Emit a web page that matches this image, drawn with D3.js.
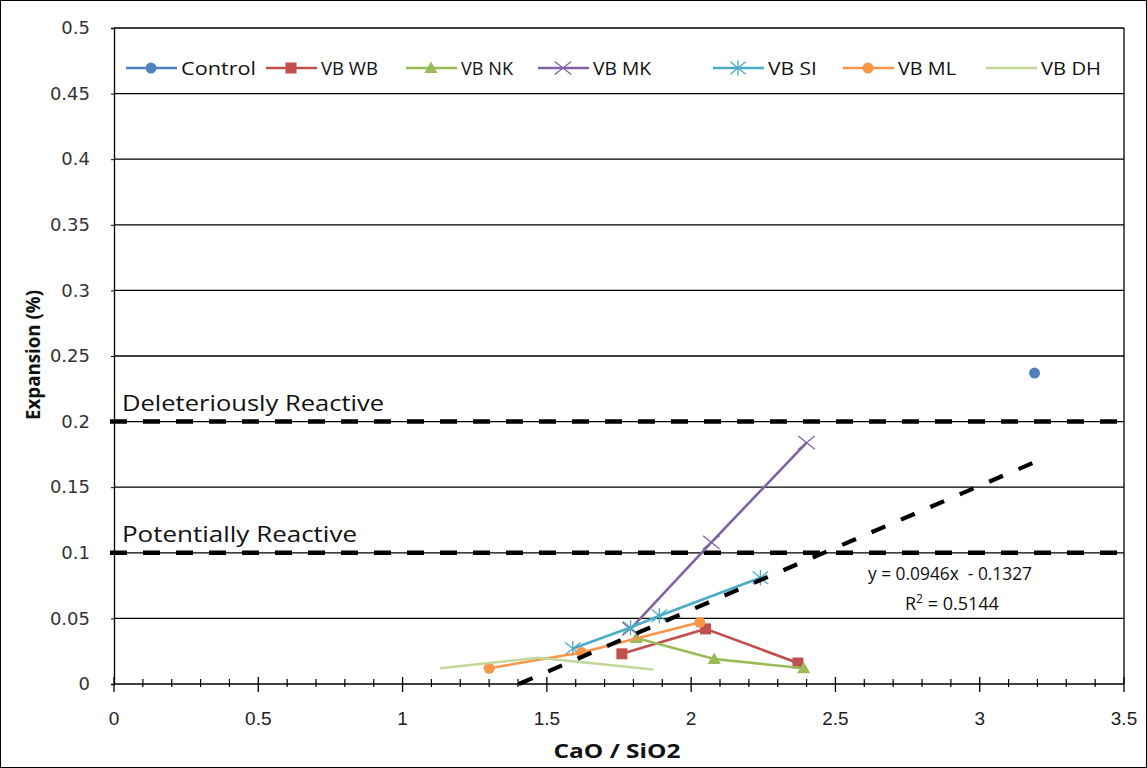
<!DOCTYPE html>
<html><head><meta charset="utf-8">
<script src="https://cdn.jsdelivr.net/npm/d3@7"></script>
<style>body{margin:0;background:#fff}svg{display:block}</style>
</head><body>
<svg id="c" width="1147" height="768"></svg>
<script>
// ---- data ----
const seriesNames = ["Control","VB WB","VB NK","VB MK","VB SI","VB ML","VB DH"];
const seriesColors = ["#4F81BD","#C0504D","#9BBB59","#8064A2","#4BACC6","#F79646","#C4D79B"];
const seriesMarkers = ["circle","square","triangle","x","asterisk","circle","none"];
const controlX = [3.19], controlY = [0.237];
const wbX = [1.76, 2.05, 2.37], wbY = [0.023, 0.042, 0.016];
const nkX = [1.81, 2.08, 2.39], nkY = [0.035, 0.019, 0.012];
const mkX = [1.79, 2.07, 2.40], mkY = [0.042, 0.108, 0.184];
const siX = [1.59, 1.79, 1.89, 2.24], siY = [0.027, 0.043, 0.052, 0.081];
const mlX = [1.30, 1.62, 2.03], mlY = [0.012, 0.024, 0.047];
const dhX = [1.13, 1.47, 1.87], dhY = [0.012, 0.020, 0.011];
const trendSlope = 0.0946, trendIntercept = -0.1327;
const trendXEnd = 3.19;
const limitValues = [0.2, 0.1];
const limitLabels = ["Deleteriously Reactive", "Potentially Reactive"];
const yTicks = [0,0.05,0.1,0.15,0.2,0.25,0.3,0.35,0.4,0.45,0.5];
const yTickLabels = ["0","0.05","0.1","0.15","0.2","0.25","0.3","0.35","0.4","0.45","0.5"];
const xTicks = [0,0.5,1,1.5,2,2.5,3,3.5];
const xTickLabels = ["0","0.5","1","1.5","2","2.5","3","3.5"];
const xTitle = "CaO / SiO2", yTitle = "Expansion (%)";
const eqText = "y = 0.0946x  - 0.1327";

const seriesX = [controlX, wbX, nkX, mkX, siX, mlX, dhX];
const seriesY = [controlY, wbY, nkY, mkY, siY, mlY, dhY];

// ---- layout ----
const svg = d3.select("#c");
const L = 114, R = 1124, T = 28, B = 684;
const x = d3.scaleLinear().domain([0,3.5]).range([L,R]);
const y = d3.scaleLinear().domain([0,0.5]).range([B,T]);
const FONT = "'Open Sans', 'Liberation Sans', sans-serif";

// outer border
svg.append("rect").attr("x",0.5).attr("y",0.5).attr("width",1146).attr("height",767)
  .attr("fill","#fff").attr("stroke","#000").attr("stroke-width",1);

// gridlines
svg.append("g").selectAll("line").data(yTicks.filter(d=>d>0)).join("line")
  .attr("x1",L).attr("x2",R).attr("y1",d=>y(d)).attr("y2",d=>y(d))
  .attr("stroke","#000").attr("stroke-width",1.3);
// right border
svg.append("line").attr("x1",R).attr("x2",R).attr("y1",T).attr("y2",B)
  .attr("stroke","#000").attr("stroke-width",1.3);

// y axis
const yAxis = svg.append("g").attr("transform",`translate(${L},0)`)
  .call(d3.axisLeft(y).tickValues(yTicks).tickFormat((d,i)=>yTickLabels[i]).tickSize(3).tickPadding(21));
yAxis.select(".domain").attr("stroke","#000").attr("stroke-width",1.3);
yAxis.selectAll("text").attr("font-family","'DejaVu Sans', Verdana, sans-serif").attr("font-size",18).attr("fill","#333");

// x axis
const xMinor = d3.range(0, 36).map(i=>i/10).filter(v => Math.abs(v*2 - Math.round(v*2)) > 1e-6);
const xg = svg.append("g");
xg.append("line").attr("x1",L).attr("x2",R).attr("y1",B).attr("y2",B).attr("stroke","#000").attr("stroke-width",1.5);
xg.selectAll("line.minor").data(xMinor).join("line").attr("class","minor")
  .attr("x1",d=>x(d)).attr("x2",d=>x(d)).attr("y1",B-5).attr("y2",B+3).attr("stroke","#000").attr("stroke-width",1.2);
xg.selectAll("line.major").data(xTicks).join("line").attr("class","major")
  .attr("x1",d=>x(d)).attr("x2",d=>x(d)).attr("y1",B-7).attr("y2",B+8).attr("stroke","#000").attr("stroke-width",1.3);
xg.selectAll("text").data(xTicks).join("text")
  .attr("x",d=>x(d)).attr("y",725).attr("text-anchor","middle")
  .attr("font-family","'Liberation Sans Narrow', 'Liberation Sans', sans-serif").attr("font-size",19).attr("fill","#222")
  .text((d,i)=>xTickLabels[i]);

// limit lines
limitValues.forEach((v,i)=>{
  svg.append("line").attr("x1",L-4).attr("x2",R).attr("y1",y(v)).attr("y2",y(v))
    .attr("stroke","#000").attr("stroke-width",4.5).attr("stroke-dasharray","17,16");
  svg.append("text").attr("x",122).attr("y",y(v)-11).attr("font-family",FONT).attr("font-size",21)
    .attr("fill","#111").attr("textLength", i===0?262:235).attr("lengthAdjust","spacingAndGlyphs")
    .text(limitLabels[i]);
});

// axis titles
svg.append("text").attr("x",617).attr("y",758).attr("text-anchor","middle").attr("font-family",FONT)
  .attr("font-weight","bold").attr("font-size",19).attr("textLength",127).attr("lengthAdjust","spacingAndGlyphs")
  .attr("fill","#111").text(xTitle);
svg.append("text").attr("transform","translate(40,355) rotate(-90)").attr("text-anchor","middle")
  .attr("font-family",FONT).attr("font-weight","bold").attr("font-size",19).attr("textLength",130)
  .attr("lengthAdjust","spacingAndGlyphs").attr("fill","#111").text(yTitle);

// marker drawer
function marker(g, type, cx, cy, color, s){
  if(type==="circle") g.append("circle").attr("cx",cx).attr("cy",cy).attr("r",s*0.5).attr("fill",color);
  else if(type==="square") g.append("rect").attr("x",cx-s/2).attr("y",cy-s/2).attr("width",s).attr("height",s).attr("fill",color);
  else if(type==="triangle") g.append("path").attr("d",`M${cx},${cy-s*0.6}L${cx+s*0.6},${cy+s*0.45}L${cx-s*0.6},${cy+s*0.45}Z`).attr("fill",color);
  else if(type==="x"){ const h=s*0.75;
    g.append("path").attr("d",`M${cx-h},${cy-h*0.8}L${cx+h},${cy+h*0.8}M${cx-h},${cy+h*0.8}L${cx+h},${cy-h*0.8}`).attr("stroke",color).attr("stroke-width",1.3).attr("fill","none");}
  else if(type==="asterisk"){ const h=s*0.7;
    g.append("path").attr("d",`M${cx-h},${cy-h*0.8}L${cx+h},${cy+h*0.8}M${cx-h},${cy+h*0.8}L${cx+h},${cy-h*0.8}M${cx},${cy-h}L${cx},${cy+h}`).attr("stroke",color).attr("stroke-width",1.3).attr("fill","none");}
}

// series
const line = d3.line().x(d=>x(d[0])).y(d=>y(d[1]));
seriesNames.forEach((name,i)=>{
  const pts = seriesX[i].map((v,j)=>[v, seriesY[i][j]]);
  const g = svg.append("g");
  if(pts.length>1) g.append("path").attr("d",line(pts)).attr("fill","none").attr("stroke",seriesColors[i]).attr("stroke-width",2.6);
  pts.forEach(p=>{ if(seriesMarkers[i]!=="none") marker(g, seriesMarkers[i], x(p[0]), y(p[1]), seriesColors[i], 11); });
});

// trendline
const tx0 = -trendIntercept/trendSlope;
svg.append("line").attr("x1",x(tx0)).attr("y1",y(0)).attr("x2",x(trendXEnd)).attr("y2",y(trendSlope*trendXEnd+trendIntercept))
  .attr("stroke","#000").attr("stroke-width",4.2).attr("stroke-dasharray","15,17");
svg.append("text").attr("x",950).attr("y",580).attr("text-anchor","middle").attr("font-family",FONT).attr("font-size",18)
  .attr("fill","#111").attr("textLength",164).attr("lengthAdjust","spacingAndGlyphs").attr("xml:space","preserve").text(eqText);
const r2 = svg.append("text").attr("x",905).attr("y",610).attr("font-family",FONT).attr("font-size",18).attr("fill","#111");
r2.append("tspan").text("R");
r2.append("tspan").attr("dy",-7).attr("font-size",12).text("2");
r2.append("tspan").attr("dy",7).text(" = 0.5144");

// legend
const legX = [151, 291, 431, 563, 738, 868, 1011];
const legW = [75, 57, 52, 58, 49, 58, 60];
const legY = 68;
seriesNames.forEach((name,i)=>{
  const g = svg.append("g");
  g.append("line").attr("x1",legX[i]-25).attr("x2",legX[i]+26).attr("y1",legY).attr("y2",legY).attr("stroke",seriesColors[i]).attr("stroke-width",2.6);
  if(seriesMarkers[i]!=="none") marker(g, seriesMarkers[i], legX[i], legY, seriesColors[i], 11);
  g.append("text").attr("x",legX[i]+30).attr("y",legY+7).attr("font-family",FONT).attr("font-size",19)
    .attr("textLength",legW[i]).attr("lengthAdjust","spacingAndGlyphs").attr("fill","#111").text(name);
});
</script>
</body></html>
